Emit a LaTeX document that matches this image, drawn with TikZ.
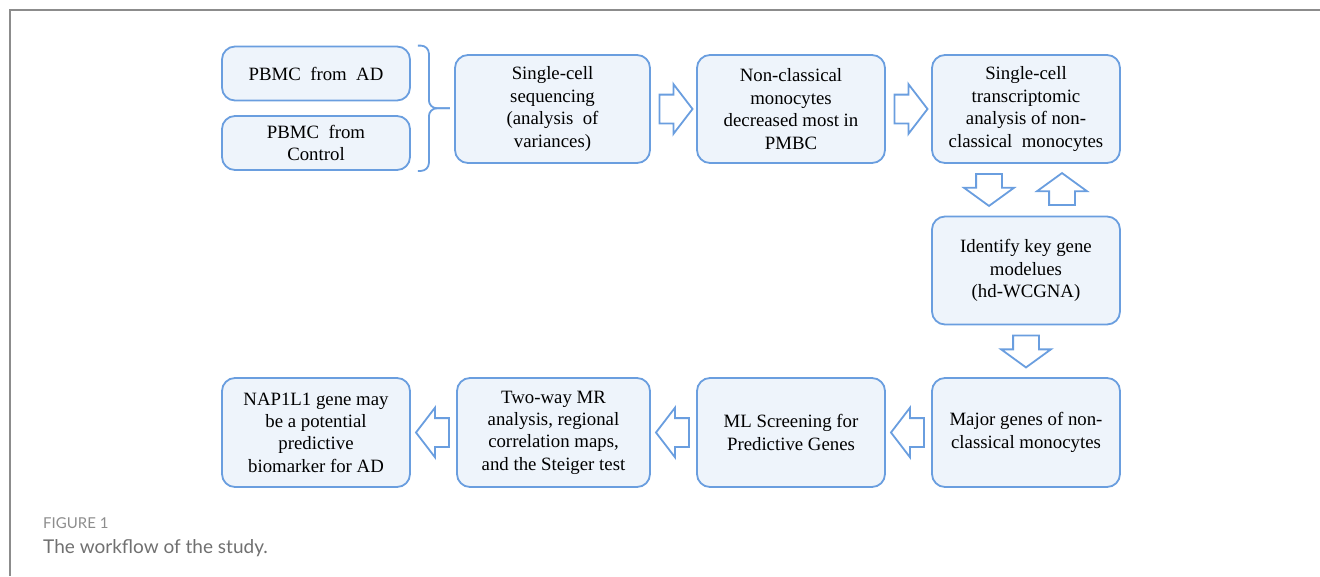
\documentclass[tikz,border=0pt]{standalone}
\usepackage{fontspec}
\setmainfont{Liberation Serif}
\newfontfamily\boxfont{Liberation Serif}
\newfontfamily\capfont{Lato}
\usetikzlibrary{shapes.arrows,calc}

\definecolor{boxline}{HTML}{6A9EDF}
\definecolor{boxfill}{HTML}{EEF4FB}
\definecolor{framegray}{HTML}{8C8C8C}
\definecolor{capgray}{HTML}{707070}

\tikzset{
  stepbox/.style={draw=boxline, fill=boxfill, line width=1.8pt, rounded corners=13pt,
    minimum width=188pt, minimum height=108pt, align=center, inner sep=2pt,
    font=\boxfont\fontsize{18.8}{22.4}\selectfont},
  flowarrow/.style={shape=single arrow, draw=boxline, fill=white, line width=1.8pt,
    inner xsep=0pt, inner ysep=13.5pt, single arrow head extend=10.5pt,
    single arrow tip angle=105, minimum height=33pt},
  vertarrow/.style={flowarrow, inner ysep=12pt, single arrow head extend=12pt,
    single arrow tip angle=108, minimum height=32pt},
}

\begin{document}
\begin{tikzpicture}[x=1pt,y=-1pt]
    \useasboundingbox (0,0) rectangle (1320,576);

    % frame
    \draw[framegray, line width=1.5pt] (1320,10) -- (10,10) -- (10,576);

    % top row
    \node[stepbox, minimum height=54pt] (ad) at (316,73.5) {PBMC\ \ from\ \ AD};
    \node[stepbox, minimum height=54pt] (ctrl) at (316,143) {PBMC\ \ from\\Control};
    \node[stepbox, minimum width=195pt] (seq) at (552.5,109) {Single-cell\\sequencing\\(analysis\ \ of\\variances)};
    \node[stepbox] (ncm) at (791,109) {Non-classical\\monocytes\\decreased most in\\PMBC};
    \node[stepbox] (sct) at (1026,109) {Single-cell\\transcriptomic\\analysis of non-\\classical\ \ monocytes};

    % right column
    \node[stepbox] (hdw) at (1026,270.5) {Identify key gene\\modelues\\(hd-WCGNA)};
    \node[stepbox, minimum height=109pt] (major) at (1026,432.5) {Major genes of non-\\classical monocytes};

    % bottom row
    \node[stepbox, minimum height=109pt] (ml) at (791,432.5) {ML Screening for\\Predictive Genes};
    \node[stepbox, minimum height=109pt, minimum width=193pt] (mr) at (553.5,432.5) {Two-way MR\\analysis, regional\\correlation maps,\\and the Steiger test};
    \node[stepbox, minimum height=109pt] (nap) at (316,432.5) {NAP1L1 gene may\\be a potential\\predictive\\biomarker for AD};

    % brace
    \coordinate (tip) at ($(ad.north east)!0.5!(ctrl.south east)+(39,0)$);
    \draw[boxline, line width=1.8pt, rounded corners=8pt]
        ($(ad.north east)+(7,0)$) -- ($(ad.north east)+(18,0)$) |- (tip);
    \draw[boxline, line width=1.8pt, rounded corners=8pt]
        ($(ctrl.south east)+(7,0)$) -- ($(ctrl.south east)+(18,0)$) |- (tip);

    % block arrows
    \node[flowarrow] (a1) at ($(seq.east)!0.5!(ncm.west)+(-3,0)$) {};
    \node[flowarrow] (a2) at ($(ncm.east)!0.5!(sct.west)+(-3,0)$) {};
    \node[vertarrow, rotate=-90] (d1) at ($(sct.south)!0.5!(hdw.north)+(-37,-4.5)$) {};
    \node[vertarrow, rotate=90] (u1) at ($(sct.south)!0.5!(hdw.north)+(36,4)$) {};
    \node[vertarrow, rotate=-90] (d2) at ($(hdw.south)!0.5!(major.north)+(0,-4.5)$) {};
    \node[flowarrow, rotate=180] (l1) at ($(major.west)!0.5!(ml.east)+(4.5,0)$) {};
    \node[flowarrow, rotate=180] (l2) at ($(ml.west)!0.5!(mr.east)+(4.5,0)$) {};
    \node[flowarrow, rotate=180] (l3) at ($(mr.west)!0.5!(nap.east)+(4.5,0)$) {};

    % caption
    \node[anchor=base west, inner sep=0pt, text=capgray!80, font=\capfont\fontsize{15}{18}\selectfont] (fig) at (43,528) {FIGURE 1};
    \node[anchor=base west, inner sep=0pt, text=capgray, font=\capfont\fontsize{19}{23}\selectfont] (cap) at (43,553) {The workflow of the study.};
\end{tikzpicture}
\end{document}
